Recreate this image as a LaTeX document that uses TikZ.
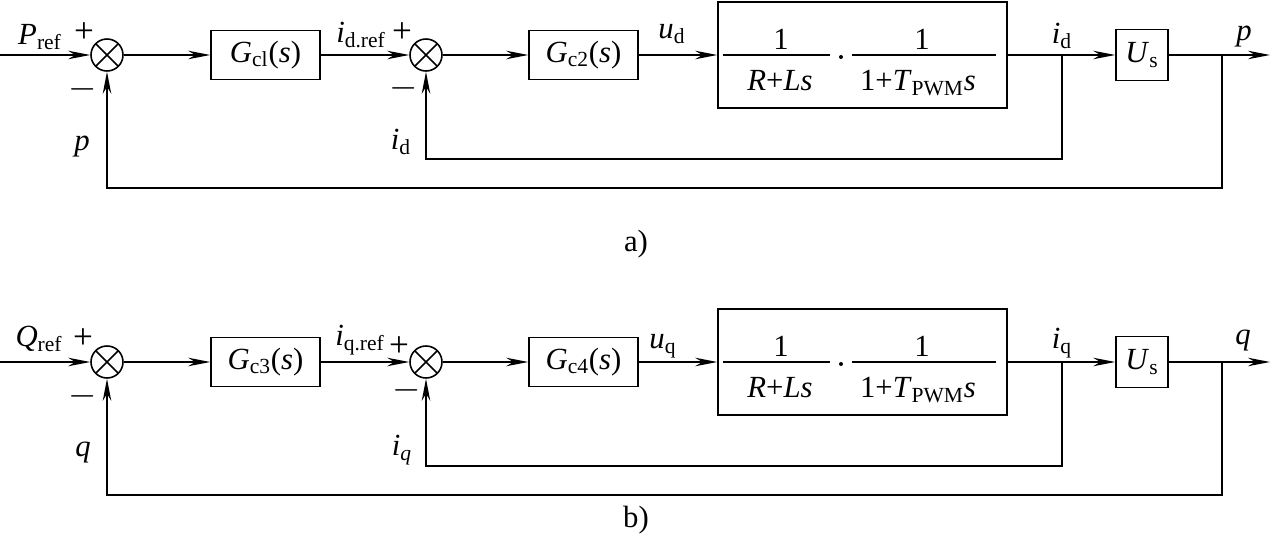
\documentclass[tikz,border=0pt]{standalone}
\usepackage{fontspec}
\setmainfont{Liberation Serif}
\usepackage{tikz}
\usetikzlibrary{arrows.meta,positioning}
\newcommand{\vit}[1]{\textit{#1}}
\tikzset{
  blk/.style={draw, rectangle, inner sep=0pt, minimum width=2.18cm, minimum height=0.98cm, line width=0.9pt},
  usblk/.style={draw, rectangle, inner sep=0pt, minimum width=1.04cm, minimum height=1.02cm, line width=0.9pt},
  plantbox/.style={draw, rectangle, inner sep=0pt, minimum width=5.78cm, minimum height=2.12cm, line width=0.9pt},
  sumnode/.style={draw, circle, inner sep=0pt, minimum size=0.64cm, line width=0.9pt,
    path picture={\draw[line width=0.9pt] (path picture bounding box.north west) -- (path picture bounding box.south east)
      (path picture bounding box.south west) -- (path picture bounding box.north east);}},
  lbl/.style={inner sep=0pt},
  sgn/.style={inner sep=0pt, font=\fontsize{20}{22}\selectfont},
  fdot/.style={circle, fill, inner sep=0pt, minimum size=0.08cm},
  wire/.style={line width=0.7pt},
  arr/.style={-{Stealth[length=4.4mm,width=1.7mm,inset=1.4mm]}, line width=0.7pt}
}
\begin{document}
\begin{tikzpicture}[x=0.02cm,y=-0.02cm,font=\fontsize{17.5}{21}\selectfont]
\useasboundingbox (0,0) rectangle (1272,536);

% a) active power loop
\coordinate (pinP) at (0,55);
\node[sumnode] (sumP) at (107,55) {};
\node[blk] (gcone) at (265.5,55) {\vit{G}\textsubscript{cl}(\vit{s})};
\node[sumnode] (sumId) at (426,55) {};
\node[blk] (gctwo) at (583.5,55) {\vit{G}\textsubscript{c2}(\vit{s})};
\node[plantbox] (plantP) at (862.5,55) {};
\node[usblk] (usP) at (1142,55) {\vit{U}\textsubscript{s}};
\coordinate (brId) at (1062,55);
\coordinate (brP) at (1222,55);
\coordinate (poutP) at (1270,55);

% fraction inside the plant
\coordinate (barAa) at (723,55);
\coordinate (barAb) at (830,55);
\coordinate (barBa) at (852,55);
\coordinate (barBb) at (996,55);
\node[lbl] (numAP) at (781,39) {1};
\node[lbl] (denAP) at (780,81) {\vit{R}+\vit{Ls}};
\node[fdot] (dotP) at (841,57) {};
\node[lbl] (numBP) at (922,39) {1};
\node[lbl] (denBP) at (918,83) {1+\vit{T}\textsubscript{PWM}\vit{s}};
\draw[wire] (barAa) -- (barAb);
\draw[wire] (barBa) -- (barBb);

\draw[arr] (pinP) -- (sumP);
\draw[arr] (sumP) -- (gcone);
\draw[arr] (gcone) -- (sumId);
\draw[arr] (sumId) -- (gctwo);
\draw[arr] (gctwo) -- (plantP);
\draw[arr] (plantP) -- (usP);
\draw[arr] (usP) -- (poutP);
\draw[arr] (brId) -- ++(0,104) -| (sumId.south);
\draw[arr] (brP) -- ++(0,133) -| (sumP.south);

\node[lbl] (lPref) at (40,37) {\vit{P}\textsubscript{ref}};
\node[sgn] (lplusP) at (84,33) {+};
\node[sgn] (lminusP) at (83,89) {$-$};
\node[lbl] (lpfb) at (82,147) {\vit{p}};
\node[lbl] (lidref) at (361,35) {\vit{i}\textsubscript{d.ref}};
\node[sgn] (lplusId) at (402,33) {+};
\node[sgn] (lminusId) at (404,88) {$-$};
\node[lbl] (lidfb) at (401,142) {\vit{i}\textsubscript{d}};
\node[lbl] (lud) at (672,34) {\vit{u}\textsubscript{d}};
\node[lbl] (lidout) at (1062,36) {\vit{i}\textsubscript{d}};
\node[lbl] (lpout) at (1244,37) {\vit{p}};
\node[lbl] (capA) at (636,244) {a)};

% b) reactive power loop
\coordinate (pinQ) at (0,362);
\node[sumnode] (sumQ) at (107,362) {};
\node[blk] (gcthree) at (265.5,362) {\vit{G}\textsubscript{c3}(\vit{s})};
\node[sumnode] (sumIq) at (426,362) {};
\node[blk] (gcfour) at (583.5,362) {\vit{G}\textsubscript{c4}(\vit{s})};
\node[plantbox] (plantQ) at (862.5,362) {};
\node[usblk] (usQ) at (1142,362) {\vit{U}\textsubscript{s}};
\coordinate (brIq) at (1062,362);
\coordinate (brQ) at (1222,362);
\coordinate (poutQ) at (1270,362);

\coordinate (barCa) at (723,362);
\coordinate (barCb) at (830,362);
\coordinate (barDa) at (852,362);
\coordinate (barDb) at (996,362);
\node[lbl] (numAQ) at (781,346) {1};
\node[lbl] (denAQ) at (780,388) {\vit{R}+\vit{Ls}};
\node[fdot] (dotQ) at (841,364) {};
\node[lbl] (numBQ) at (922,346) {1};
\node[lbl] (denBQ) at (918,390) {1+\vit{T}\textsubscript{PWM}\vit{s}};
\draw[wire] (barCa) -- (barCb);
\draw[wire] (barDa) -- (barDb);

\draw[arr] (pinQ) -- (sumQ);
\draw[arr] (sumQ) -- (gcthree);
\draw[arr] (gcthree) -- (sumIq);
\draw[arr] (sumIq) -- (gcfour);
\draw[arr] (gcfour) -- (plantQ);
\draw[arr] (plantQ) -- (usQ);
\draw[arr] (usQ) -- (poutQ);
\draw[arr] (brIq) -- ++(0,104) -| (sumIq.south);
\draw[arr] (brQ) -- ++(0,133) -| (sumQ.south);

\node[lbl] (lQref) at (39,339) {\vit{Q}\textsubscript{ref}};
\node[sgn] (lplusQ) at (83,339) {+};
\node[sgn] (lminusQ) at (83,396) {$-$};
\node[lbl] (lqfb) at (83,453) {\vit{q}};
\node[lbl] (liqref) at (360,340) {\vit{i}\textsubscript{q.ref}};
\node[sgn] (lplusIq) at (399,347) {+};
\node[sgn] (lminusIq) at (407,390) {$-$};
\node[lbl] (liqfb) at (402,450) {\vit{i}\textsubscript{\vit{q}}};
\node[lbl] (luq) at (663,346) {\vit{u}\textsubscript{q}};
\node[lbl] (liqout) at (1062,343) {\vit{i}\textsubscript{q}};
\node[lbl] (lqout) at (1243,341) {\vit{q}};
\node[lbl] (capB) at (636,520) {b)};
\end{tikzpicture}
\end{document}
